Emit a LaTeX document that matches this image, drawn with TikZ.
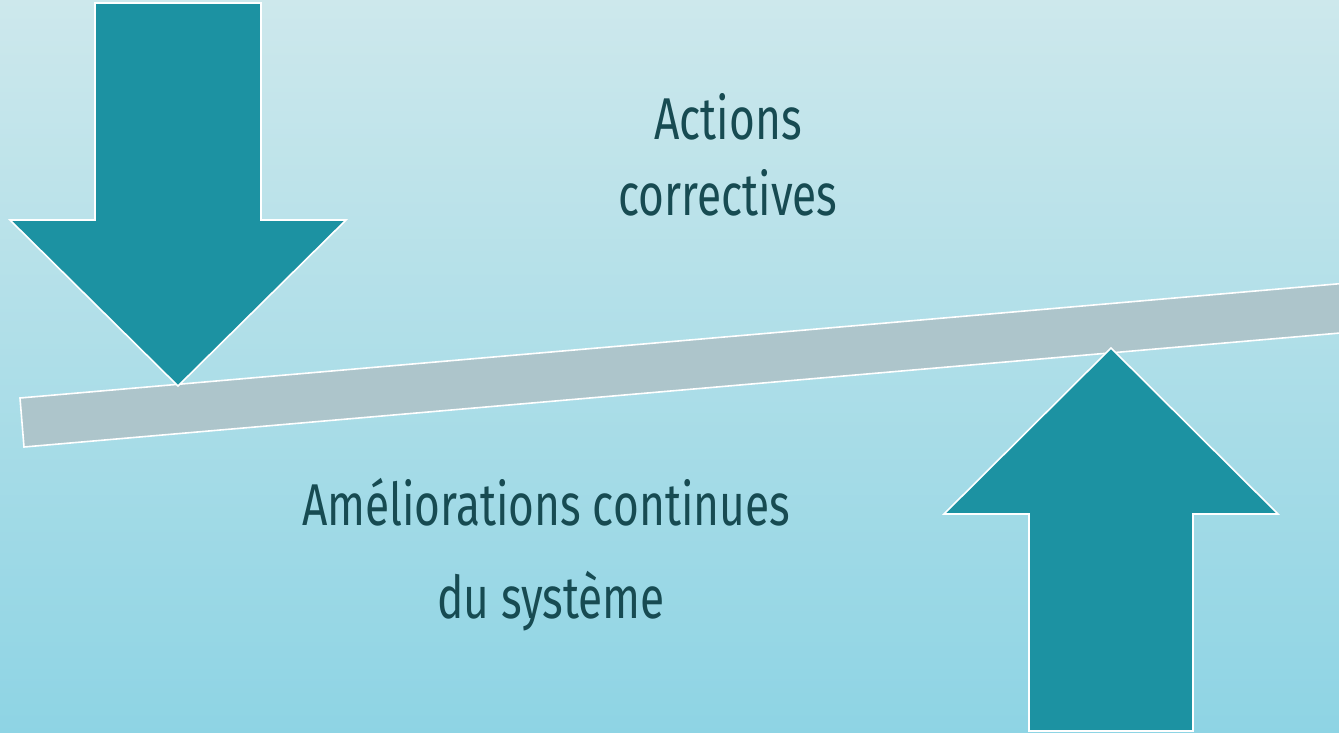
\documentclass[tikz,border=0pt]{standalone}
\usepackage{fontspec}
\newfontfamily\agency[FakeStretch=0.75]{Fira Sans}
\definecolor{bgtop}{HTML}{CDE8EC}
\definecolor{bgmid}{HTML}{B0E4EE}
\definecolor{bgbot}{HTML}{8ED4E4}
\definecolor{arrowfill}{HTML}{1C92A2}
\definecolor{barfill}{HTML}{ADC5CB}
\definecolor{txt}{HTML}{174B52}
\tikzset{
  arrowshape/.style={fill=arrowfill, draw=white, line width=1.6pt, line join=miter},
  barshape/.style={fill=barfill, draw=white, line width=1.6pt},
  label/.style={font=\agency\fontsize{59}{60}\selectfont, text=txt, inner sep=0pt, anchor=base},
}
\begin{document}
\begin{tikzpicture}[x=1pt,y=-1pt]
\useasboundingbox (0,0) rectangle (1339,733);
\shade[top color=bgtop, middle color=bgmid, bottom color=bgbot] (0,0) rectangle (1339,733);
\begin{scope}
\clip (0,0) rectangle (1339,733);
% lever bar
\draw[barshape] (20,398) -- (1364,281.6) -- (1368,330.6) -- (24,447) -- cycle;
% down arrow
\draw[arrowshape] (95,3) -- (261,3) -- (261,220) -- (346,220) -- (178,386) -- (10,220) -- (95,220) -- cycle;
% up arrow
\draw[arrowshape] (1111,348) -- (1278,514) -- (1193,514) -- (1193,731) -- (1029,731) -- (1029,514) -- (944,514) -- cycle;
\end{scope}
\node[label] (t1) at (728,140) {Actions};
\node[label] (t2) at (728,215) {correctives};
\node[label] (t3) at (546,525) {Améliorations continues};
\node[label] (t4) at (551,618) {du système};
\end{tikzpicture}
\end{document}
